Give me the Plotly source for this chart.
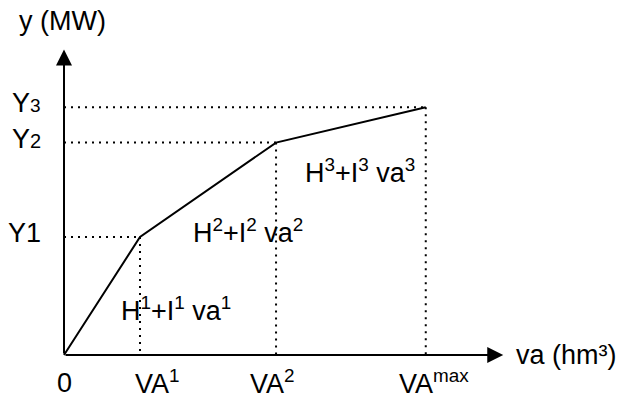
import plotly.graph_objects as go

# ---- data (abstract units) ----
va_labels = ["VA<sup>1</sup>", "VA<sup>2</sup>", "VA<sup>max</sup>"]
y_labels = ["Y1", "Y<span style='font-size:20px'>2</span>", "Y<span style='font-size:19px'>3</span>"]
va_vals = [1.0, 2.79, 4.76]
y_vals = [1.0, 1.8, 2.1]
curve_x = [0.0] + va_vals
curve_y = [0.0] + y_vals
seg_labels = ["H<sup>1</sup>+I<sup>1</sup> va<sup>1</sup>",
              "H<sup>2</sup>+I<sup>2</sup> va<sup>2</sup>",
              "H<sup>3</sup>+I<sup>3</sup> va<sup>3</sup>"]
x_axis_end = 5.78
y_axis_end = 2.59

W, H = 621, 399
FONT = dict(family="Liberation Sans, Arial, sans-serif", size=27, color="black")

fig = go.Figure()

# dotted guide lines
dot = dict(color="black", width=2, dash="2px,5px")
for xv, yv in zip(va_vals, y_vals):
    fig.add_trace(go.Scatter(x=[0, xv], y=[yv, yv], mode="lines", line=dot,
                             hoverinfo="skip", showlegend=False))
    fig.add_trace(go.Scatter(x=[xv, xv], y=[yv, 0], mode="lines", line=dot,
                             hoverinfo="skip", showlegend=False))

# piecewise linear curve
fig.add_trace(go.Scatter(x=curve_x, y=curve_y, mode="lines",
                         line=dict(color="black", width=2),
                         hoverinfo="skip", showlegend=False))

ann = []
# axes with arrows
for tx, ty in [(x_axis_end, 0), (0, y_axis_end)]:
    ann.append(dict(x=tx, y=ty, ax=0, ay=0, xref="x", yref="y", axref="x", ayref="y",
                    text="", showarrow=True, arrowhead=2, arrowsize=1.6, arrowwidth=2,
                    arrowcolor="black", standoff=0, startstandoff=0))

# axis titles
ann.append(dict(x=0, y=y_axis_end, xref="x", yref="y", text="y (MW)", showarrow=False,
                xanchor="center", yanchor="middle", xshift=-2, yshift=28, font=FONT))
ann.append(dict(x=x_axis_end, y=0, xref="x", yref="y", text="va (hm³)", showarrow=False,
                xanchor="left", yanchor="middle", xshift=11, yshift=0, font=FONT))

# origin label
ann.append(dict(x=0, y=0, xref="x", yref="y", text="0", showarrow=False,
                xanchor="center", yanchor="middle", yshift=-28, font=FONT))

# x tick labels
x_shifts = [17, -4, 8]
for lab, xv, xs in zip(va_labels, va_vals, x_shifts):
    ann.append(dict(x=xv, y=0, xref="x", yref="y", text=lab, showarrow=False,
                    xanchor="center", yanchor="middle", xshift=xs, yshift=-27, font=FONT))

# y tick labels
for lab, yv in zip(y_labels, y_vals):
    ann.append(dict(x=0, y=yv, xref="x", yref="y", text=lab, showarrow=False,
                    xanchor="right", yanchor="middle", xshift=-21, yshift=4, font=FONT))

# segment labels (positioned relative to segment ends)
seg_pos = [(va_vals[0], 0.0, 36, 46), (va_vals[1], y_vals[0], -28, 6), (va_vals[2], y_vals[1], -66, -28)]
for lab, (xv, yv, xs, ys) in zip(seg_labels, seg_pos):
    ann.append(dict(x=xv, y=yv, xref="x", yref="y", text=lab, showarrow=False,
                    xanchor="center", yanchor="middle", xshift=xs, yshift=ys, font=FONT))

fig.update_layout(annotations=ann)

# pixel-exact axis ranges: origin at (64, 355) px; 76 px per x unit, 118 px per y unit
ox, oy, sx, sy = 64, 355, 76.0, 118.0
fig.update_xaxes(range=[-ox / sx, (W - ox) / sx], visible=False, fixedrange=True)
fig.update_yaxes(range=[-(H - oy) / sy, oy / sy], visible=False, fixedrange=True)
fig.update_layout(width=W, height=H, margin=dict(l=0, r=0, t=0, b=0),
                  plot_bgcolor="white", paper_bgcolor="white", showlegend=False)

fig.write_html("out.html", config={"displayModeBar": False})
